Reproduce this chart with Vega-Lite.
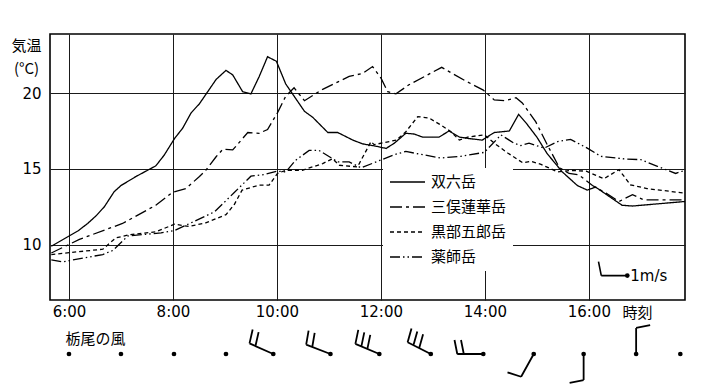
{
  "$schema": "https://vega.github.io/schema/vega-lite/v6.json",
  "background": "white",
  "padding": {"left": 10, "top": 33, "right": 0, "bottom": 0},
  "spacing": 0,
  "config": {
    "font": "DejaVu Sans",
    "view": {"stroke": "black", "strokeWidth": 1.6},
    "axis": {
      "labelColor": "black", "labelFontSize": 15, "labelFont": "DejaVu Sans",
      "titleColor": "black", "titleFont": "Noto Sans CJK JP", "titleFontSize": 15, "titleFontWeight": "normal",
      "domain": false, "ticks": false, "tickSize": 0,
      "grid": true, "gridColor": "#1a1a1a", "gridWidth": 1, "gridOpacity": 1
    }
  },
  "datasets": {
    "temps": [
      {"station":"双六岳","h":5.66,"t":9.9},{"station":"双六岳","h":6.17,"t":10.9},{"station":"双六岳","h":6.36,"t":11.4},{"station":"双六岳","h":6.52,"t":11.9},{"station":"双六岳","h":6.68,"t":12.5},{"station":"双六岳","h":6.87,"t":13.5},{"station":"双六岳","h":7.0,"t":13.9},{"station":"双六岳","h":7.29,"t":14.5},{"station":"双六岳","h":7.67,"t":15.2},{"station":"双六岳","h":7.83,"t":15.9},{"station":"双六岳","h":8.03,"t":17.0},{"station":"双六岳","h":8.19,"t":17.7},{"station":"双六岳","h":8.35,"t":18.7},{"station":"双六岳","h":8.51,"t":19.3},{"station":"双六岳","h":8.63,"t":19.9},{"station":"双六岳","h":8.83,"t":20.9},{"station":"双六岳","h":9.02,"t":21.5},{"station":"双六岳","h":9.15,"t":21.2},{"station":"双六岳","h":9.34,"t":20.1},{"station":"双六岳","h":9.5,"t":19.95},{"station":"双六岳","h":9.66,"t":21.1},{"station":"双六岳","h":9.82,"t":22.4},{"station":"双六岳","h":9.99,"t":22.1},{"station":"双六岳","h":10.17,"t":20.6},{"station":"双六岳","h":10.33,"t":19.8},{"station":"双六岳","h":10.53,"t":18.8},{"station":"双六岳","h":10.69,"t":18.4},{"station":"双六岳","h":10.98,"t":17.4},{"station":"双六岳","h":11.17,"t":17.4},{"station":"双六岳","h":11.46,"t":16.9},{"station":"双六岳","h":11.65,"t":16.65},{"station":"双六岳","h":11.9,"t":16.5},{"station":"双六岳","h":12.1,"t":16.35},{"station":"双六岳","h":12.26,"t":16.7},{"station":"双六岳","h":12.48,"t":17.35},{"station":"双六岳","h":12.64,"t":17.3},{"station":"双六岳","h":12.8,"t":17.1},{"station":"双六岳","h":13.12,"t":17.1},{"station":"双六岳","h":13.31,"t":17.5},{"station":"双六岳","h":13.51,"t":17.1},{"station":"双六岳","h":13.7,"t":17.0},{"station":"双六岳","h":13.95,"t":16.9},{"station":"双六岳","h":14.18,"t":17.4},{"station":"双六岳","h":14.47,"t":17.5},{"station":"双六岳","h":14.65,"t":18.6},{"station":"双六岳","h":14.8,"t":18.0},{"station":"双六岳","h":15.0,"t":17.1},{"station":"双六岳","h":15.2,"t":16.0},{"station":"双六岳","h":15.49,"t":14.8},{"station":"双六岳","h":15.78,"t":13.9},{"station":"双六岳","h":15.97,"t":13.6},{"station":"双六岳","h":16.13,"t":13.8},{"station":"双六岳","h":16.64,"t":12.6},{"station":"双六岳","h":16.84,"t":12.55},{"station":"双六岳","h":17.85,"t":12.85},
      {"station":"三俣蓮華岳","h":5.66,"t":9.45},{"station":"三俣蓮華岳","h":6.2,"t":10.35},{"station":"三俣蓮華岳","h":7.03,"t":11.4},{"station":"三俣蓮華岳","h":7.67,"t":12.6},{"station":"三俣蓮華岳","h":7.99,"t":13.45},{"station":"三俣蓮華岳","h":8.25,"t":13.7},{"station":"三俣蓮華岳","h":8.51,"t":14.5},{"station":"三俣蓮華岳","h":8.63,"t":14.9},{"station":"三俣蓮華岳","h":8.83,"t":15.8},{"station":"三俣蓮華岳","h":8.96,"t":16.3},{"station":"三俣蓮華岳","h":9.15,"t":16.25},{"station":"三俣蓮華岳","h":9.44,"t":17.4},{"station":"三俣蓮華岳","h":9.66,"t":17.35},{"station":"三俣蓮華岳","h":9.82,"t":17.6},{"station":"三俣蓮華岳","h":10.01,"t":18.7},{"station":"三俣蓮華岳","h":10.17,"t":19.8},{"station":"三俣蓮華岳","h":10.33,"t":20.35},{"station":"三俣蓮華岳","h":10.53,"t":19.5},{"station":"三俣蓮華岳","h":10.88,"t":20.25},{"station":"三俣蓮華岳","h":11.39,"t":21.1},{"station":"三俣蓮華岳","h":11.65,"t":21.3},{"station":"三俣蓮華岳","h":11.84,"t":21.75},{"station":"三俣蓮華岳","h":12.0,"t":21.0},{"station":"三俣蓮華岳","h":12.13,"t":20.1},{"station":"三俣蓮華岳","h":12.29,"t":19.95},{"station":"三俣蓮華岳","h":12.54,"t":20.55},{"station":"三俣蓮華岳","h":13.17,"t":21.7},{"station":"三俣蓮華岳","h":13.63,"t":20.8},{"station":"三俣蓮華岳","h":13.97,"t":20.2},{"station":"三俣蓮華岳","h":14.18,"t":19.55},{"station":"三俣蓮華岳","h":14.4,"t":19.5},{"station":"三俣蓮華岳","h":14.6,"t":19.7},{"station":"三俣蓮華岳","h":14.72,"t":19.35},{"station":"三俣蓮華岳","h":14.98,"t":18.1},{"station":"三俣蓮華岳","h":15.2,"t":16.6},{"station":"三俣蓮華岳","h":15.43,"t":15.1},{"station":"三俣蓮華岳","h":15.62,"t":14.7},{"station":"三俣蓮華岳","h":15.81,"t":14.6},{"station":"三俣蓮華岳","h":16.07,"t":13.9},{"station":"三俣蓮華岳","h":16.33,"t":13.4},{"station":"三俣蓮華岳","h":16.58,"t":12.85},{"station":"三俣蓮華岳","h":16.84,"t":13.3},{"station":"三俣蓮華岳","h":17.06,"t":12.95},{"station":"三俣蓮華岳","h":17.85,"t":12.95},
      {"station":"黒部五郎岳","h":5.66,"t":9.35},{"station":"黒部五郎岳","h":6.65,"t":9.7},{"station":"黒部五郎岳","h":6.9,"t":10.45},{"station":"黒部五郎岳","h":7.16,"t":10.65},{"station":"黒部五郎岳","h":7.67,"t":10.85},{"station":"黒部五郎岳","h":8.03,"t":11.35},{"station":"黒部五郎岳","h":8.31,"t":11.2},{"station":"黒部五郎岳","h":8.63,"t":11.44},{"station":"黒部五郎岳","h":9.02,"t":11.98},{"station":"黒部五郎岳","h":9.18,"t":12.65},{"station":"黒部五郎岳","h":9.33,"t":13.6},{"station":"黒部五郎岳","h":9.66,"t":13.93},{"station":"黒部五郎岳","h":9.85,"t":13.93},{"station":"黒部五郎岳","h":10.01,"t":14.7},{"station":"黒部五郎岳","h":10.17,"t":14.91},{"station":"黒部五郎岳","h":10.49,"t":14.91},{"station":"黒部五郎岳","h":10.88,"t":15.35},{"station":"黒部五郎岳","h":11.07,"t":15.67},{"station":"黒部五郎岳","h":11.2,"t":15.24},{"station":"黒部五郎岳","h":11.55,"t":15.13},{"station":"黒部五郎岳","h":11.81,"t":16.8},{"station":"黒部五郎岳","h":11.87,"t":16.6},{"station":"黒部五郎岳","h":12.3,"t":16.9},{"station":"黒部五郎岳","h":12.48,"t":17.45},{"station":"黒部五郎岳","h":12.71,"t":18.45},{"station":"黒部五郎岳","h":12.93,"t":18.35},{"station":"黒部五郎岳","h":13.15,"t":17.9},{"station":"黒部五郎岳","h":13.35,"t":17.45},{"station":"黒部五郎岳","h":13.51,"t":16.9},{"station":"黒部五郎岳","h":13.67,"t":17.1},{"station":"黒部五郎岳","h":13.99,"t":17.25},{"station":"黒部五郎岳","h":14.18,"t":16.7},{"station":"黒部五郎岳","h":14.44,"t":16.05},{"station":"黒部五郎岳","h":14.73,"t":15.4},{"station":"黒部五郎岳","h":14.88,"t":15.5},{"station":"黒部五郎岳","h":15.08,"t":15.3},{"station":"黒部五郎岳","h":15.4,"t":14.8},{"station":"黒部五郎岳","h":15.64,"t":14.9},{"station":"黒部五郎岳","h":15.95,"t":14.85},{"station":"黒部五郎岳","h":16.29,"t":14.35},{"station":"黒部五郎岳","h":16.58,"t":14.95},{"station":"黒部五郎岳","h":16.8,"t":13.95},{"station":"黒部五郎岳","h":17.12,"t":13.7},{"station":"黒部五郎岳","h":17.85,"t":13.4},
      {"station":"薬師岳","h":5.66,"t":9.0},{"station":"薬師岳","h":5.88,"t":8.87},{"station":"薬師岳","h":6.65,"t":9.35},{"station":"薬師岳","h":6.85,"t":9.63},{"station":"薬師岳","h":7.13,"t":10.57},{"station":"薬師岳","h":7.77,"t":10.78},{"station":"薬師岳","h":8.03,"t":10.93},{"station":"薬師岳","h":8.8,"t":12.17},{"station":"薬師岳","h":9.18,"t":13.44},{"station":"薬師岳","h":9.5,"t":14.52},{"station":"薬師岳","h":9.76,"t":14.63},{"station":"薬師岳","h":10.01,"t":14.85},{"station":"薬師岳","h":10.17,"t":14.8},{"station":"薬師岳","h":10.36,"t":15.57},{"station":"薬師岳","h":10.62,"t":16.22},{"station":"薬師岳","h":10.81,"t":16.22},{"station":"薬師岳","h":11.17,"t":15.46},{"station":"薬師岳","h":11.39,"t":15.46},{"station":"薬師岳","h":11.62,"t":15.07},{"station":"薬師岳","h":12.26,"t":15.94},{"station":"薬師岳","h":12.48,"t":16.15},{"station":"薬師岳","h":12.71,"t":16.0},{"station":"薬師岳","h":13.15,"t":15.72},{"station":"薬師岳","h":13.54,"t":15.83},{"station":"薬師岳","h":13.99,"t":16.09},{"station":"薬師岳","h":14.31,"t":17.24},{"station":"薬師岳","h":14.56,"t":16.7},{"station":"薬師岳","h":14.69,"t":16.54},{"station":"薬師岳","h":14.85,"t":16.7},{"station":"薬師岳","h":15.14,"t":16.37},{"station":"薬師岳","h":15.4,"t":16.8},{"station":"薬師岳","h":15.65,"t":16.95},{"station":"薬師岳","h":15.97,"t":16.37},{"station":"薬師岳","h":16.23,"t":15.83},{"station":"薬師岳","h":16.68,"t":15.66},{"station":"薬師岳","h":17.0,"t":15.61},{"station":"薬師岳","h":17.32,"t":15.17},{"station":"薬師岳","h":17.67,"t":14.7},{"station":"薬師岳","h":17.85,"t":14.91}
    ],
    "sample": [{"h": 16.74, "t": 7.96, "speed": 1, "angle": 0, "label": "1m/s"}],
    "wind": [
      {"h": 6.0, "speed": 0, "angle": 0},
      {"h": 7.0, "speed": 0, "angle": 0},
      {"h": 8.02, "speed": 0, "angle": 0},
      {"h": 9.02, "speed": 0, "angle": 0},
      {"h": 9.93, "speed": 2, "angle": 24},
      {"h": 11.03, "speed": 2, "angle": 21},
      {"h": 11.97, "speed": 3, "angle": 23},
      {"h": 12.96, "speed": 3, "angle": 27},
      {"h": 13.97, "speed": 2, "angle": 0},
      {"h": 14.94, "speed": 1, "angle": 299},
      {"h": 15.9, "speed": 1, "angle": 270},
      {"h": 16.91, "speed": 1, "angle": 90},
      {"h": 17.76, "speed": 0, "angle": 0}
    ],
    "windLabel": [{"h": 6.51, "label": "栃尾の風"}]
  },
  "vconcat": [
    {
      "width": 635,
      "height": 266,
      "layer": [
        {
          "data": {"name": "temps"},
          "mark": {"type": "line", "color": "black", "strokeWidth": 1.3, "clip": true},
          "encoding": {
            "x": {
              "field": "h", "type": "quantitative",
              "scale": {"domain": [5.635, 17.85], "nice": false, "zero": false},
              "axis": {
                "values": [6, 8, 10, 12, 14, 16],
                "labelExpr": "datum.value + ':00'",
                "labelPadding": 4, "labelFlush": false,
                "title": "時刻", "titleX": 587, "titleY": 12,
                "titleAlign": "center", "titleBaseline": "middle"
              }
            },
            "y": {
              "field": "t", "type": "quantitative",
              "scale": {"domain": [6.35, 23.9], "nice": false, "zero": false},
              "axis": {
                "values": [10, 15, 20],
                "labelPadding": 9,
                "title": ["気温", "(°C)"],
                "titleAngle": 0, "titleAlign": "center", "titleBaseline": "top",
                "titleX": -24, "titleY": 4, "titleLineHeight": 23
              }
            },
            "strokeDash": {
              "field": "station", "type": "nominal",
              "scale": {
                "domain": ["双六岳", "三俣蓮華岳", "黒部五郎岳", "薬師岳"],
                "range": [[1, 0], [12, 4, 3, 4], [4, 3], [10, 3, 1.5, 3, 1.5, 3]]
              },
              "legend": {
                "orient": "none", "legendX": 333, "legendY": 134,
                "title": null,
                "symbolType": "stroke", "symbolSize": 1225, "symbolStrokeWidth": 1.3,
                "symbolStrokeColor": "black",
                "labelFontSize": 15, "labelFont": "Noto Sans CJK JP", "labelColor": "black",
                "labelOffset": 5, "clipHeight": 16, "rowPadding": 9,
                "padding": 6, "fillColor": "white", "strokeColor": null
              }
            }
          }
        },
        {
          "data": {"name": "sample"},
          "mark": {"type": "circle", "size": 22, "color": "black", "opacity": 1},
          "encoding": {
            "x": {"field": "h", "type": "quantitative"},
            "y": {"field": "t", "type": "quantitative"}
          }
        },
        {
          "data": {"name": "sample"},
          "mark": {"type": "point", "filled": false, "stroke": "black", "strokeWidth": 1.6, "size": 3600, "opacity": 1},
          "encoding": {
            "x": {"field": "h", "type": "quantitative"},
            "y": {"field": "t", "type": "quantitative"},
            "shape": {
              "field": "speed", "type": "nominal",
              "scale": {
                "domain": [1, 2, 3],
                "range": [
                  "M0,0L-0.867,0M-0.867,0L-0.96,-0.467",
                  "M0,0L-0.867,0M-0.867,0L-0.96,-0.467M-0.65,0L-0.743,-0.467",
                  "M0,0L-0.867,0M-0.867,0L-0.96,-0.467M-0.65,0L-0.743,-0.467M-0.433,0L-0.526,-0.467"
                ]
              },
              "legend": null
            },
            "angle": {"field": "angle", "type": "quantitative", "scale": null}
          }
        },
        {
          "data": {"name": "sample"},
          "mark": {"type": "text", "align": "left", "baseline": "middle", "dx": 3, "fontSize": 15, "font": "DejaVu Sans", "color": "black"},
          "encoding": {
            "x": {"field": "h", "type": "quantitative"},
            "y": {"field": "t", "type": "quantitative"},
            "text": {"field": "label"}
          }
        }
      ]
    },
    {
      "width": 635,
      "height": 54,
      "view": {"stroke": null},
      "layer": [
        {
          "data": {"name": "wind"},
          "mark": {"type": "circle", "size": 22, "color": "black", "opacity": 1},
          "encoding": {
            "x": {"field": "h", "type": "quantitative", "scale": {"domain": [5.635, 17.85], "nice": false, "zero": false}, "axis": null}
          }
        },
        {
          "data": {"name": "wind"},
          "transform": [{"filter": "datum.speed > 0"}],
          "mark": {"type": "point", "filled": false, "stroke": "black", "strokeWidth": 1.8, "size": 3600, "opacity": 1},
          "encoding": {
            "x": {"field": "h", "type": "quantitative"},
            "shape": {
              "field": "speed", "type": "nominal",
              "scale": {
                "domain": [1, 2, 3],
                "range": [
                  "M0,0L-0.867,0M-0.867,0L-0.96,-0.467",
                  "M0,0L-0.867,0M-0.867,0L-0.96,-0.467M-0.65,0L-0.743,-0.467",
                  "M0,0L-0.867,0M-0.867,0L-0.96,-0.467M-0.65,0L-0.743,-0.467M-0.433,0L-0.526,-0.467"
                ]
              },
              "legend": null
            },
            "angle": {"field": "angle", "type": "quantitative", "scale": null}
          }
        },
        {
          "data": {"name": "windLabel"},
          "mark": {"type": "text", "align": "center", "baseline": "middle", "dy": -15, "fontSize": 15, "font": "Noto Sans CJK JP", "color": "black"},
          "encoding": {
            "x": {"field": "h", "type": "quantitative"},
            "text": {"field": "label"}
          }
        }
      ]
    }
  ]
}
